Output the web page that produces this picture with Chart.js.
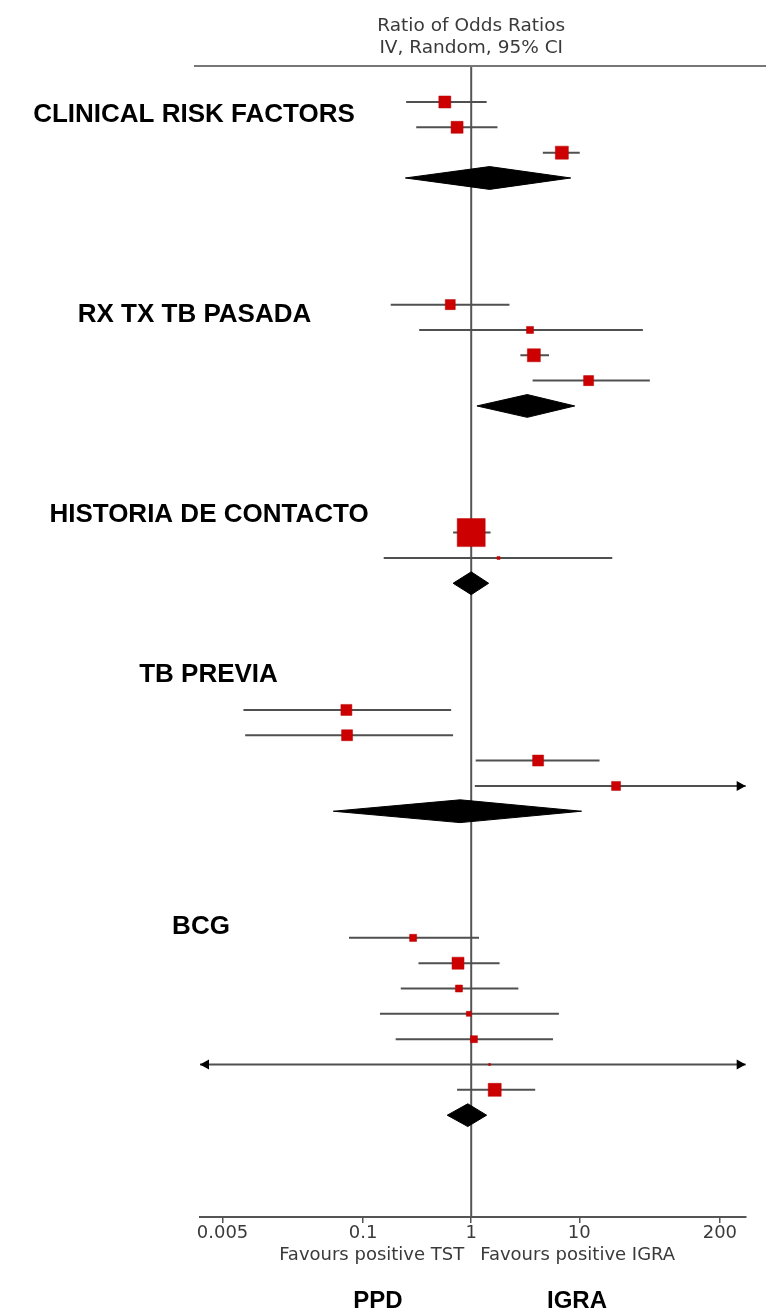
<!DOCTYPE html>
<html><head><meta charset="utf-8">
<script src="https://cdn.jsdelivr.net/npm/chart.js@4.4.0/dist/chart.umd.min.js"></script>
<style>html,body{margin:0;padding:0;background:#fff}#wrap{position:relative;width:766px;height:1311px}</style>
</head><body><div id="wrap"><canvas id="c"></canvas></div>
<script>
// ---------- DATA ----------
const groups = ['CLINICAL RISK FACTORS', 'RX TX TB PASADA', 'HISTORIA DE CONTACTO', 'TB PREVIA', 'BCG'];
const studyGroup  = [0, 0, 0,   1, 1, 1, 1,   2, 2,   3, 3, 3, 3,   4, 4, 4, 4, 4, 4, 4];
const studyOR     = [0.57, 0.74, 6.9,   0.64, 3.5, 3.8, 12.2,   1.0, 1.79,   0.070, 0.071, 4.16, 21.9,   0.29, 0.755, 0.77, 0.95, 1.06, 1.48, 1.65];
const studyLow    = [0.25, 0.31, 4.6,   0.18, 0.33, 2.85, 3.7,  0.68, 0.155, 0.0078, 0.0081, 1.10, 1.08,  0.074, 0.325, 0.223, 0.143, 0.20, 0.001, 0.74];
const studyHigh   = [1.39, 1.75, 10.1,  2.26, 38.8, 5.25, 45,   1.51, 20.2,  0.652, 0.68, 15.4, 900,     1.18, 1.83, 2.73, 6.48, 5.71, 1000, 3.91];
const studyWeight = [18.4, 18.4, 21.6,  12.8, 6.3, 21.6, 12.8,  100, 1.2,    15.4, 15.4, 15.4, 10.3,    6.3, 18.4, 6.3, 3.2, 6.3, 0.5, 21.6];
const pooledOR    = [1.48, 3.30, 1.00, 0.79, 0.93];
const pooledLow   = [0.246, 1.13, 0.68, 0.053, 0.60];
const pooledHigh  = [8.34, 9.08, 1.45, 10.5, 1.39];
const xTicks      = [0.005, 0.1, 1, 10, 200];
const titleLines  = ['Ratio of Odds Ratios', 'IV, Random, 95% CI'];
const favours     = ['Favours positive TST', 'Favours positive IGRA'];
const sideLabels  = ['PPD', 'IGRA'];

// ---------- ROW LAYOUT (one row per study, diamond after each group) ----------
const studyRow = [], pooledRow = [];
let r = 0;
groups.forEach((g, gi) => {
  studyGroup.forEach((sg, i) => { if (sg === gi) studyRow[i] = r++; });
  pooledRow[gi] = r;
  r += 5;
});
const Y_MIN = -1.421, Y_MAX = 44.02;

const ciData = [];
studyOR.forEach((v, i) => {
  ciData.push({x: studyLow[i], y: studyRow[i]}, {x: studyHigh[i], y: studyRow[i]}, {x: studyLow[i], y: null});
});
const ptData = studyOR.map((v, i) => ({x: v, y: studyRow[i]}));
const ptRadius = studyWeight.map(w => 2.8 * Math.sqrt(w) / Math.SQRT2);
const DH = 0.45;
const diamondSets = pooledOR.map((v, gi) => ({
  data: [
    {x: pooledLow[gi], y: pooledRow[gi]}, {x: v, y: pooledRow[gi] - DH},
    {x: pooledHigh[gi], y: pooledRow[gi]}, {x: v, y: pooledRow[gi] + DH},
    {x: pooledLow[gi], y: pooledRow[gi]}
  ],
  showLine: true, fill: 'shape', backgroundColor: '#000', borderColor: '#000',
  borderWidth: 1, pointRadius: 0, tension: 0, order: 1
}));

// ---------- DECORATION PLUGIN ----------
const groupLabelPos = [[194, 115], [194.5, 315], [209, 515], [208.5, 675], [201, 927]];
const decor = {
  id: 'decor',
  afterDatasetsDraw(chart) {
    const {ctx, scales: {x, y}, chartArea: a} = chart;
    ctx.save();
    ctx.fillStyle = '#000';
    const arrow = (tipX, py, dir) => {
      ctx.beginPath();
      ctx.moveTo(tipX, py);
      ctx.lineTo(tipX - dir * 9, py - 5);
      ctx.lineTo(tipX - dir * 9, py + 5);
      ctx.closePath(); ctx.fill();
    };
    studyOR.forEach((v, i) => {
      const py = y.getPixelForValue(studyRow[i]);
      if (studyLow[i] < x.min) arrow(a.left, py, -1);
      if (studyHigh[i] > x.max) arrow(a.right, py, 1);
    });
    ctx.restore();
  },
  afterDraw(chart) {
    const {ctx, scales: {x}, chartArea: a} = chart;
    const x1 = x.getPixelForValue(1);
    ctx.save();
    // top rule
    ctx.strokeStyle = '#777'; ctx.lineWidth = 2;
    ctx.beginPath(); ctx.moveTo(194, a.top); ctx.lineTo(chart.width, a.top); ctx.stroke();
    // header text
    ctx.fillStyle = '#3a3a3a'; ctx.textAlign = 'center'; ctx.textBaseline = 'middle';
    ctx.font = '18.5px "DejaVu Sans", sans-serif';
    ctx.fillText(titleLines[0], x1, 26);
    ctx.fillText(titleLines[1], x1, 48);
    // favours
    ctx.font = '18px "DejaVu Sans", sans-serif';
    ctx.textAlign = 'right'; ctx.fillText(favours[0], x1 - 7, 1255);
    ctx.textAlign = 'left'; ctx.fillText(favours[1], x1 + 9, 1255);
    // group labels
    ctx.fillStyle = '#000'; ctx.textAlign = 'center';
    ctx.font = 'bold 26px "Liberation Sans", Arial, sans-serif';
    groups.forEach((g, gi) => ctx.fillText(g, groupLabelPos[gi][0], groupLabelPos[gi][1]));
    // PPD / IGRA
    ctx.font = 'bold 24px "Liberation Sans", Arial, sans-serif';
    ctx.fillText(sideLabels[0], 378, 1301);
    ctx.fillText(sideLabels[1], 577, 1301);
    ctx.restore();
  }
};

new Chart(document.getElementById('c'), {
  type: 'scatter',
  data: {
    datasets: [
      {data: ptData, pointStyle: 'rect', pointRadius: ptRadius, pointHoverRadius: ptRadius,
       pointBackgroundColor: '#cc0000', pointBorderColor: '#b80000', pointBorderWidth: 0.5, showLine: false, order: 0},
      ...diamondSets,
      {data: ciData, showLine: true, borderColor: '#505050', borderWidth: 2, pointRadius: 0, spanGaps: false, order: 2},
      {data: [{x: 1, y: Y_MIN}, {x: 1, y: Y_MAX}], showLine: true, borderColor: '#555', borderWidth: 2, pointRadius: 0, order: 3}
    ]
  },
  options: {
    responsive: true, maintainAspectRatio: false, animation: false,
    layout: {padding: {left: 200, right: 14, top: 66, bottom: 0}},
    plugins: {legend: {display: false}, tooltip: {enabled: false}},
    scales: {
      x: {
        type: 'logarithmic', position: 'bottom',
        min: Math.pow(10, -2.5096), max: Math.pow(10, 2.540),
        afterBuildTicks: s => { s.ticks = xTicks.map(v => ({value: v})); },
        afterFit: s => { s.height = 94; s.paddingLeft = 0; s.paddingRight = 0; },
        ticks: {autoSkip: false, maxRotation: 0, padding: 0, color: '#3a3a3a',
                font: {family: 'DejaVu Sans', size: 18},
                callback: v => String(v)},
        grid: {display: true, drawOnChartArea: false, drawTicks: true, tickLength: 6, color: '#555', lineWidth: 1.5},
        border: {display: true, color: '#555', width: 2}
      },
      y: {type: 'linear', reverse: true, min: Y_MIN, max: Y_MAX, display: false}
    }
  },
  plugins: [decor]
});
</script>
</body></html>
